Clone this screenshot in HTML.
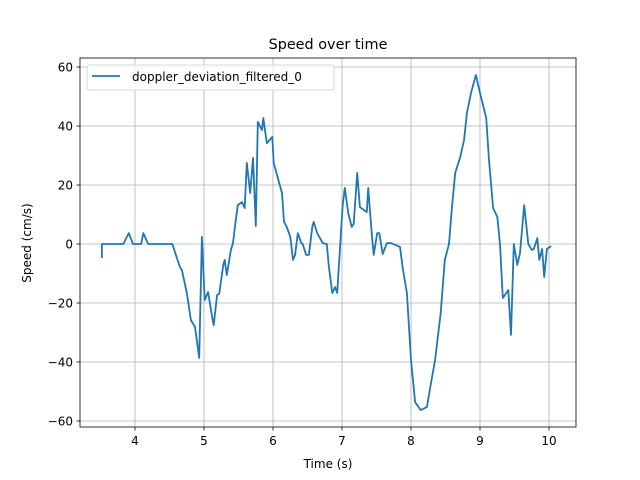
<!DOCTYPE html>
<html><head><meta charset="utf-8"><style>
body{margin:0;background:#fff;}
svg{display:block;font-family:"DejaVu Sans","Liberation Sans",sans-serif;}
</style></head><body>
<svg id="chart" width="640" height="480" viewBox="0 0 640 480" xmlns="http://www.w3.org/2000/svg">
<rect width="640" height="480" fill="#fff"/>
<text x="328" y="49" text-anchor="middle" font-size="14.4">Speed over time</text>
<g id="grid"></g>
<g id="ticks"></g>
<g id="plot"></g>
<rect x="80" y="58" width="496" height="369" fill="none" stroke="#000" stroke-width="0.8"/>
<text x="328" y="468" text-anchor="middle" font-size="12">Time (s)</text>
<text transform="translate(31,243) rotate(-90)" text-anchor="middle" font-size="12">Speed (cm/s)</text>
<g>
<rect x="87" y="65" width="247" height="25" rx="2" fill="#fff" fill-opacity="0.8" stroke="#ccc" stroke-width="0.8"/>
<line x1="92" y1="76" x2="120" y2="76" stroke="#1f77b4" stroke-width="1.8"/>
<text x="132" y="81" font-size="12">doppler_deviation_filtered_0</text>
</g>
</svg>
<script>
const times=[3.52,3.52,3.83,3.91,3.97,4.09,4.12,4.19,4.54,4.65,4.68,4.75,4.81,4.87,4.93,4.97,5.01,5.06,5.12,5.14,5.19,5.22,5.28,5.30,5.33,5.39,5.42,5.45,5.49,5.55,5.59,5.62,5.67,5.71,5.75,5.78,5.84,5.86,5.91,5.99,6.01,6.07,6.13,6.16,6.20,6.25,6.29,6.32,6.36,6.41,6.43,6.48,6.52,6.57,6.59,6.64,6.72,6.78,6.81,6.86,6.90,6.93,7.01,7.04,7.09,7.14,7.17,7.22,7.26,7.36,7.38,7.43,7.46,7.51,7.54,7.59,7.65,7.71,7.84,7.88,7.94,8.00,8.06,8.14,8.23,8.28,8.35,8.43,8.49,8.55,8.59,8.64,8.71,8.77,8.81,8.87,8.94,9.00,9.09,9.13,9.19,9.25,9.29,9.33,9.41,9.45,9.49,9.54,9.58,9.64,9.70,9.75,9.78,9.83,9.86,9.90,9.93,9.97,10.03,10.07];
const speeds=[-4.7,0,0,3.7,0,0,3.7,0,0,-7.8,-8.8,-16.6,-25.8,-28.1,-38.6,2.4,-19,-16.3,-25.1,-27.5,-17.3,-16.9,-7.1,-5.4,-10.5,-2,0.3,6.4,13.2,14.2,12.2,27.5,17.3,29.2,6.1,41.4,38.6,42.7,34.2,36.3,27.5,22.4,17.3,7.5,5.8,2.4,-5.4,-3.7,3.7,0.3,0,-3.7,-3.7,5.8,7.5,3.7,0.3,0,-7.8,-16.6,-14.6,-16.6,13.2,19,10.5,5.8,6.8,24.1,12.5,10.8,19,3.7,-3.7,3.7,3.7,-3.4,0.3,0.3,-1,-8.1,-16.6,-39.3,-53.6,-56.3,-55.3,-48.5,-39.3,-23.4,-5.4,0,11.5,24.1,29.2,35.3,44.4,51.2,57.3,51.2,42.7,28.5,12.2,9.2,0,-18.3,-15.6,-30.8,0,-7.1,-3.1,13.2,0,-2,-1.7,2,-5.4,-1.7,-11.2,-1.7,-0.7];
const xTicks=[4,5,6,7,8,9,10];
const yTicks=[-60,-40,-20,0,20,40,60];
const NS="http://www.w3.org/2000/svg";
function xs(t){return 135+(t-4)*69;}
function ys(v){return 244-v*2.95;}
const grid=document.getElementById('grid'),ticks=document.getElementById('ticks'),plot=document.getElementById('plot');
function mk(tag,attrs,parent){const e=document.createElementNS(NS,tag);for(const k in attrs)e.setAttribute(k,attrs[k]);parent.appendChild(e);return e;}
xTicks.forEach(t=>{
 const x=xs(t);
 const g=mk('line',{x1:x,x2:x,y1:58,y2:427,stroke:'#b0b0b0','stroke-width':0.8},grid);
 
 
 const tk=mk('line',{x1:x,x2:x,y1:427,y2:430.5,stroke:'#000','stroke-width':0.8},ticks);
 
 
 const lb=mk('text',{x:x,y:445,'text-anchor':'middle','font-size':12},ticks);
 lb.textContent=t;
 
 
});
yTicks.forEach(v=>{
 const y=ys(v);
 const g=mk('line',{x1:80,x2:576,y1:y,y2:y,stroke:'#b0b0b0','stroke-width':0.8},grid);
 
 
 const tk=mk('line',{x1:76.5,x2:80,y1:y,y2:y,stroke:'#000','stroke-width':0.8},ticks);
 
 
 const lb=mk('text',{x:73,y:y+4.5,'text-anchor':'end','font-size':12},ticks);
 lb.textContent=(v<0?'\u2212'+(-v):v);
 
 
});
const pts=times.map((t,i)=>xs(t).toFixed(1)+','+ys(speeds[i]).toFixed(1)).join(' ');
const line=mk('polyline',{points:pts,fill:'none',stroke:'#1f77b4','stroke-width':1.8,'stroke-linejoin':'round'},plot);


</script>
</body></html>
